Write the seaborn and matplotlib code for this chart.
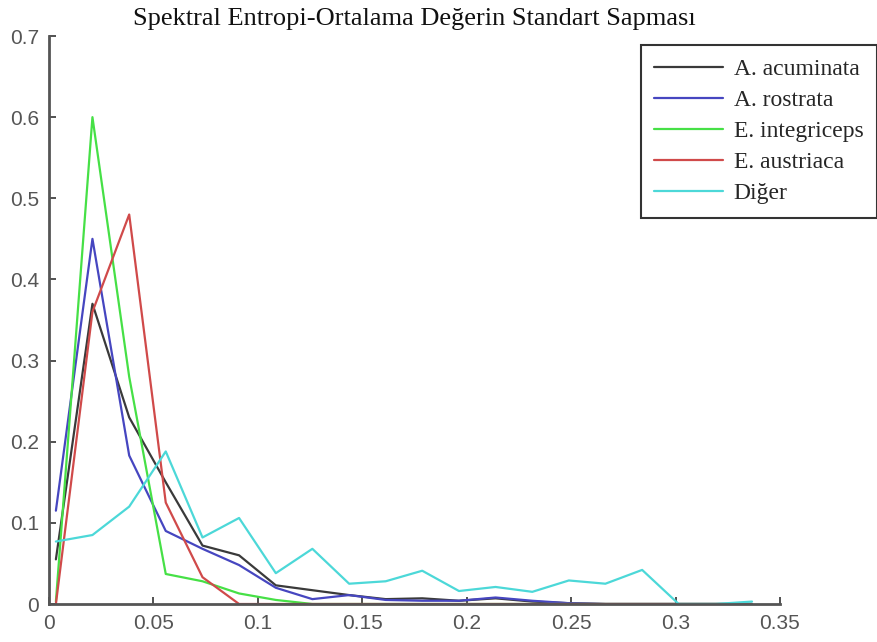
import pandas as pd
import matplotlib
matplotlib.use('Agg')
import matplotlib.pyplot as plt
import seaborn as sns

# Data (bin centres and relative frequencies)
x_vals = [0.0033, 0.0208, 0.0384, 0.0559, 0.0735, 0.0910, 0.1086, 0.1261, 0.1437, 0.1612,
          0.1787, 0.1963, 0.2138, 0.2314, 0.2489, 0.2664, 0.2840, 0.3015, 0.3191, 0.3366]
acuminata = [0.055, 0.37, 0.23, 0.15, 0.072, 0.06, 0.023, 0.017, 0.011, 0.006,
             0.007, 0.004, 0.007, 0.003, 0.001, 0.0, 0.0, 0.0, 0.0, 0.0]
rostrata = [0.115, 0.45, 0.183, 0.09, 0.068, 0.048, 0.02, 0.006, 0.011, 0.005,
            0.004, 0.004, 0.008, 0.004, 0.001, 0.0, 0.0, 0.0, 0.0, 0.0]
integriceps = [0.003, 0.60, 0.28, 0.037, 0.028, 0.013, 0.005, 0.0, 0.0, 0.0,
               0.0, 0.0, 0.0, 0.0, 0.0, 0.0, 0.0, 0.0, 0.0, 0.0]
austriaca = [0.0, 0.36, 0.48, 0.125, 0.033, 0.0, 0.0, 0.0, 0.0, 0.0,
             0.0, 0.0, 0.0, 0.0, 0.0, 0.0, 0.0, 0.0, 0.0, 0.0]
diger = [0.077, 0.085, 0.12, 0.188, 0.082, 0.106, 0.038, 0.068, 0.025, 0.028,
         0.041, 0.016, 0.021, 0.015, 0.029, 0.025, 0.042, 0.0, 0.0, 0.003]

labels = ['A. acuminata', 'A. rostrata', 'E. integriceps', 'E. austriaca', 'Diğer']
colors = ['#3a3a3a', '#4646c0', '#46e046', '#d04a4a', '#4cd8d8']

# Long-form table for seaborn
series = [acuminata, rostrata, integriceps, austriaca, diger]
df = pd.concat([pd.DataFrame({'x': x_vals, 'y': s, 'tur': name})
                for name, s in zip(labels, series)], ignore_index=True)

sns.set_style('ticks')
plt.rcParams['font.family'] = ['Liberation Sans', 'DejaVu Sans']

fig = plt.figure(figsize=(8.78, 6.42), dpi=100)
ax = fig.add_axes([49 / 878, 1 - 604 / 642, (780 - 49) / 878, (604 - 36) / 642])

sns.lineplot(data=df, x='x', y='y', hue='tur', hue_order=labels,
             palette=dict(zip(labels, colors)), sort=False, linewidth=1.6, ax=ax)

ax.set_xlim(0, 0.35)
ax.set_ylim(0, 0.7)
ax.set_xticks([0, 0.05, 0.1, 0.15, 0.2, 0.25, 0.3, 0.35])
ax.set_xticklabels(['0', '0.05', '0.1', '0.15', '0.2', '0.25', '0.3', '0.35'])
ax.set_yticks([0, 0.1, 0.2, 0.3, 0.4, 0.5, 0.6, 0.7])
ax.set_yticklabels(['0', '0.1', '0.2', '0.3', '0.4', '0.5', '0.6', '0.7'])
ax.set_xlabel('')
ax.set_ylabel('')

for side in ['top', 'right']:
    ax.spines[side].set_visible(False)
for side in ['left', 'bottom']:
    ax.spines[side].set_color('#555555')
    ax.spines[side].set_linewidth(2)
ax.tick_params(direction='in', length=5, width=1.2, color='#333333',
               labelsize=15, labelcolor='#555555', pad=7)

ax.set_title('Spektral Entropi-Ortalama Değerin Standart Sapması',
             family='Liberation Serif', fontsize=19, color='#111111', pad=8)

handles, names = ax.get_legend_handles_labels()
leg = ax.legend(handles, names, loc='upper right', bbox_to_anchor=(877 / 878, 1 - 45 / 642),
                bbox_transform=fig.transFigure, borderaxespad=0, frameon=True,
                fancybox=False, prop={'family': 'Liberation Serif', 'size': 17},
                handlelength=2.9, labelspacing=0.4, borderpad=0.58, handletextpad=0.45)
leg.get_frame().set_edgecolor('black')
leg.get_frame().set_linewidth(1.5)

fig.savefig('out.png', dpi=100)
